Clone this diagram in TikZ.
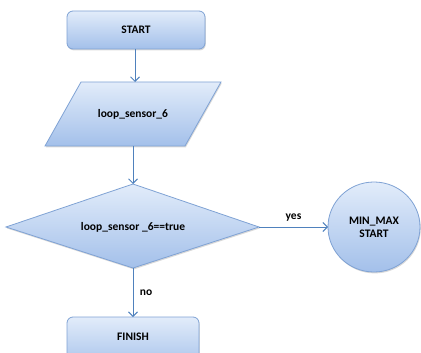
\documentclass[tikz,border=0pt]{standalone}
\usepackage{fontspec}
\setmainfont{Carlito}
\usetikzlibrary{arrows.meta,shadows,shapes.geometric}
\definecolor{edgeblue}{HTML}{7FA2D4}
\definecolor{arrowblue}{HTML}{4F81BD}
\definecolor{filltop}{HTML}{E2ECFA}
\definecolor{fillbot}{HTML}{A3C0EA}
\tikzset{
  blockfill/.style={draw=edgeblue, line width=0.8pt, top color=filltop, bottom color=fillbot,
    drop shadow={opacity=0.3, shadow xshift=0.8pt, shadow yshift=-1.4pt}},
  label/.style={font=\bfseries\fontsize{11.5}{13}\selectfont, text=black},
  flow/.style={draw=arrowblue, line width=1pt, -{Straight Barb[length=4.5pt,width=9pt,line width=1pt]}},
}
\begin{document}
\begin{tikzpicture}[x=1pt,y=-1pt]
\useasboundingbox (0,0) rectangle (421,353);
\begin{scope}
\clip (0,0) rectangle (421,353);
% start terminal
\path[blockfill, rounded corners=6pt] (67,11) rectangle (205,49);
\node[label] (start) at (136,30) {START};
\coordinate (startB) at (135,49);
% input parallelogram
\path[blockfill] (81,82) -- (221,82) -- (185,146) -- (45,146) -- cycle;
\node[label] (input) at (133,114) {loop\_sensor\_6};
\coordinate (inT) at (135,82);
\coordinate (inB) at (133,146);
% decision diamond
\path[blockfill] (133,184) -- (259,227) -- (133,268) -- (6,227) -- cycle;
\node[label] (test) at (133,227) {loop\_sensor \_6==true};
\coordinate (decT) at (133,184);
\coordinate (decR) at (259,227);
\coordinate (decB) at (133,268);
% connector circle
\path[blockfill] (374,227) ellipse[x radius=46, y radius=45];
\node[label, align=center] (minmax) at (374,227) {MIN\_MAX\\START};
\coordinate (cirL) at (328,227);
% finish terminal
\path[blockfill, rounded corners=6pt] (67,317) rectangle (199,370);
\node[label] (finish) at (133,337) {FINISH};
\coordinate (finT) at (133,317);
\end{scope}
% connectors
\draw[flow] (startB) -- (inT);
\draw[flow] (inB) -- (decT);
\draw[flow] (decR) -- node[label, above=2pt] {yes} (cirL);
\draw[flow] (decB) -- node[label, right=3pt, pos=0.5] {no} (finT);
\end{tikzpicture}
\end{document}
